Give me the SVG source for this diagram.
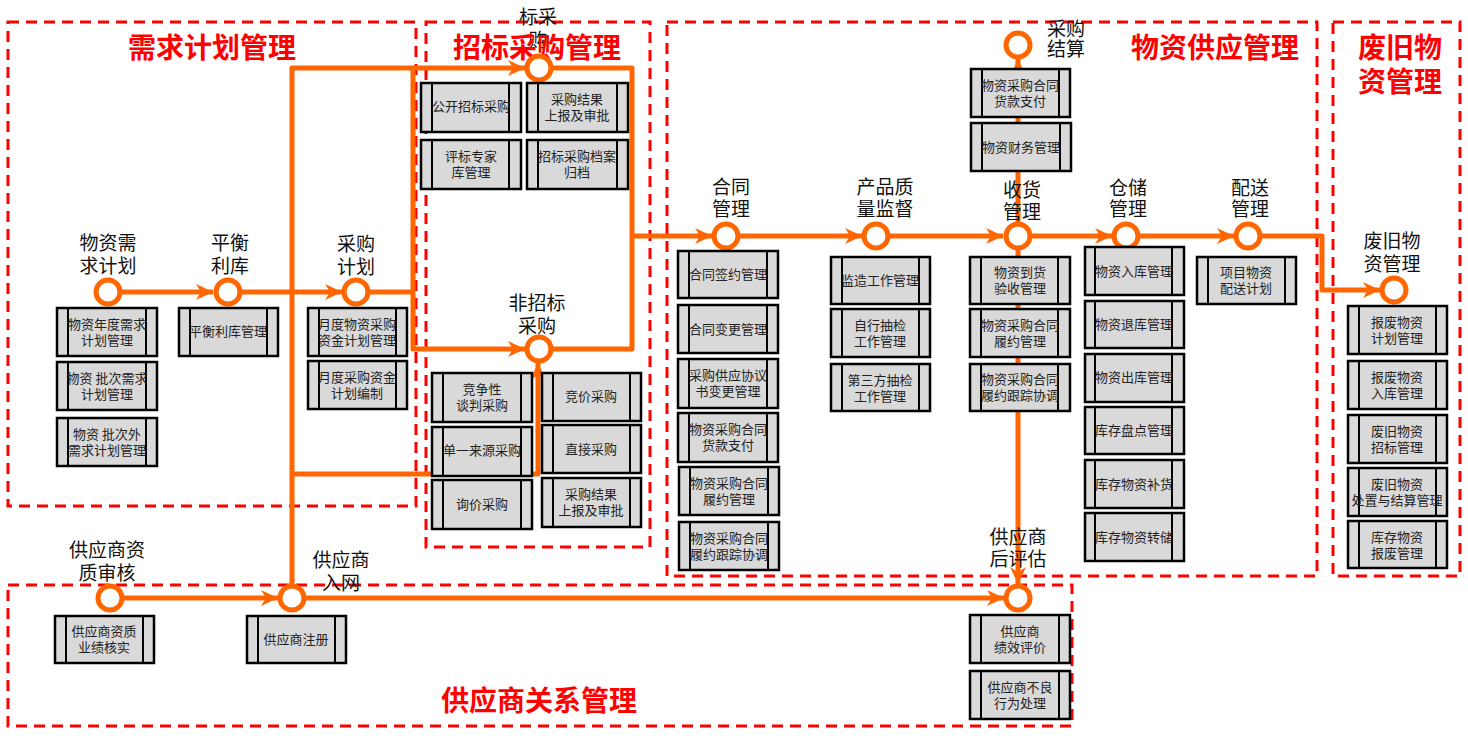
<svg xmlns="http://www.w3.org/2000/svg" width="1468" height="747" viewBox="0 0 1468 747">
<style>
.frame{fill:none;stroke:#FF0000;stroke-width:3;stroke-dasharray:11 7}
.title{font-family:"Noto Sans CJK SC","Noto Sans",sans-serif;font-size:28px;font-weight:bold;fill:#FF0000;text-anchor:middle}
.conn{fill:none;stroke:#FF6600;stroke-width:5;stroke-linejoin:round}
.stop{fill:#FFFFFF;stroke:#FF6600;stroke-width:5}
.lbl{font-family:"Noto Sans CJK SC","Noto Sans",sans-serif;font-size:19px;fill:#111;text-anchor:middle}
.box rect{fill:#D9D9D9;stroke:#000;stroke-width:2.5}
.box line{stroke:#000;stroke-width:2}
.box text{font-family:"Noto Sans CJK SC","Noto Sans",sans-serif;font-size:13px;fill:#222;text-anchor:middle}
</style>
<defs>
<marker id="arr" markerUnits="userSpaceOnUse" markerWidth="18" markerHeight="18" viewBox="0 0 18 18" refX="17" refY="9" orient="auto"><path d="M0,1 L17,9 L0,17 L5,9 z" fill="#FF6600"/></marker>
</defs>
<rect width="1468" height="747" fill="#FFFFFF"/>

<g id="frames">
<rect class="frame" x="8" y="22" width="408" height="484"/>
<rect class="frame" x="426" y="22" width="224" height="525"/>
<rect class="frame" x="667" y="22" width="650" height="554"/>
<rect class="frame" x="1333" y="22" width="127" height="554"/>
<rect class="frame" x="8" y="585" width="1064" height="141"/>
</g>

<g id="connectors">
<path class="conn" d="M108,292 H213" marker-end="url(#arr)"/>
<path class="conn" d="M228,292 H342" marker-end="url(#arr)"/>
<path class="conn" d="M356,292 H413"/>
<path class="conn" d="M413,68 V349 H525" marker-end="url(#arr)"/>
<path class="conn" d="M292,598 V68 H525" marker-end="url(#arr)"/>
<path class="conn" d="M292,474 H538 V363" marker-end="url(#arr)"/>
<path class="conn" d="M539,68 H632 V349 H539"/>
<path class="conn" d="M632,236 H712" marker-end="url(#arr)"/>
<path class="conn" d="M726,236 H862" marker-end="url(#arr)"/>
<path class="conn" d="M876,236 H1003" marker-end="url(#arr)"/>
<path class="conn" d="M1017,236 H1112" marker-end="url(#arr)"/>
<path class="conn" d="M1126,236 H1234" marker-end="url(#arr)"/>
<path class="conn" d="M1248,236 H1322 V290 H1380" marker-end="url(#arr)"/>
<path class="conn" d="M1018,236 V59" marker-end="url(#arr)"/>
<path class="conn" d="M1018,236 V584" marker-end="url(#arr)"/>
<path class="conn" d="M110,598 H278" marker-end="url(#arr)"/>
<path class="conn" d="M292,598 H1004" marker-end="url(#arr)"/>
</g>

<g id="titles">
<text class="title" x="212" y="58">需求计划管理</text>
<text class="lbl" x="538" y="24">标采<tspan x="538" dy="23">购</tspan></text>
<text class="title" x="537" y="58">招标采购管理</text>
<text class="title" x="1215" y="58">物资供应管理</text>
<text class="title" x="1400" y="58">废旧物<tspan x="1400" dy="34">资管理</tspan></text>
<text class="title" x="539" y="711">供应商关系管理</text>
</g>

<g id="n-wzxqjh"><circle class="stop" cx="108" cy="292" r="12"/><text class="lbl" x="108" y="250">物资需<tspan x="108" dy="23">求计划</tspan></text></g>
<g id="n-phlk"><circle class="stop" cx="228" cy="292" r="12"/><text class="lbl" x="230" y="250">平衡<tspan x="230" dy="23">利库</tspan></text></g>
<g id="n-cgjh"><circle class="stop" cx="356" cy="292" r="12"/><text class="lbl" x="356" y="251">采购<tspan x="356" dy="23">计划</tspan></text></g>
<g id="n-zbcg"><circle class="stop" cx="539" cy="68" r="12"/></g>
<g id="n-fzbcg"><circle class="stop" cx="539" cy="349" r="12"/><text class="lbl" x="537" y="310">非招标<tspan x="537" dy="23">采购</tspan></text></g>
<g id="n-htgl"><circle class="stop" cx="726" cy="236" r="12"/><text class="lbl" x="731" y="194">合同<tspan x="731" dy="22">管理</tspan></text></g>
<g id="n-cpzl"><circle class="stop" cx="876" cy="236" r="12"/><text class="lbl" x="885" y="194">产品质<tspan x="885" dy="22">量监督</tspan></text></g>
<g id="n-shgl"><circle class="stop" cx="1018" cy="236" r="12"/><text class="lbl" x="1022" y="197">收货<tspan x="1022" dy="22">管理</tspan></text></g>
<g id="n-ccgl"><circle class="stop" cx="1126" cy="236" r="12"/><text class="lbl" x="1128" y="195">仓储<tspan x="1128" dy="21">管理</tspan></text></g>
<g id="n-psgl"><circle class="stop" cx="1248" cy="236" r="12"/><text class="lbl" x="1250" y="195">配送<tspan x="1250" dy="21">管理</tspan></text></g>
<g id="n-fjwz"><circle class="stop" cx="1394" cy="290" r="12"/><text class="lbl" x="1392" y="248">废旧物<tspan x="1392" dy="23">资管理</tspan></text></g>
<g id="n-cgjs"><circle class="stop" cx="1018" cy="45" r="12"/><text class="lbl" x="1066" y="36">采购<tspan x="1066" dy="20">结算</tspan></text></g>
<g id="n-gyszz"><circle class="stop" cx="110" cy="598" r="12"/><text class="lbl" x="107" y="557">供应商资<tspan x="107" dy="23">质审核</tspan></text></g>
<g id="n-gysrw"><circle class="stop" cx="292" cy="598" r="12"/><text class="lbl" x="341" y="567">供应商<tspan x="341" dy="23">入网</tspan></text></g>
<g id="n-gyshpg"><circle class="stop" cx="1018" cy="598" r="12"/><text class="lbl" x="1018" y="544">供应商<tspan x="1018" dy="22">后评估</tspan></text></g>

<g id="b1" class="box"><rect x="57" y="308" width="100" height="48"/><line x1="68" y1="308" x2="68" y2="356"/><line x1="146" y1="308" x2="146" y2="356"/><text x="107" y="329">物资年度需求<tspan x="107" dy="16">计划管理</tspan></text></g>
<g id="b2" class="box"><rect x="57" y="362" width="100" height="48"/><line x1="68" y1="362" x2="68" y2="410"/><line x1="146" y1="362" x2="146" y2="410"/><text x="107" y="383">物资 批次需求<tspan x="107" dy="16">计划管理</tspan></text></g>
<g id="b3" class="box"><rect x="57" y="418" width="100" height="48"/><line x1="68" y1="418" x2="68" y2="466"/><line x1="146" y1="418" x2="146" y2="466"/><text x="107" y="439">物资 批次外<tspan x="107" dy="16">需求计划管理</tspan></text></g>
<g id="b4" class="box"><rect x="179" y="308" width="99" height="48"/><line x1="190" y1="308" x2="190" y2="356"/><line x1="267" y1="308" x2="267" y2="356"/><text x="228" y="336">平衡利库管理</text></g>
<g id="b5" class="box"><rect x="308" y="308" width="99" height="48"/><line x1="319" y1="308" x2="319" y2="356"/><line x1="396" y1="308" x2="396" y2="356"/><text x="357" y="329">月度物资采购<tspan x="357" dy="16">资金计划管理</tspan></text></g>
<g id="b6" class="box"><rect x="308" y="361" width="99" height="48"/><line x1="319" y1="361" x2="319" y2="409"/><line x1="396" y1="361" x2="396" y2="409"/><text x="357" y="382">月度采购资金<tspan x="357" dy="16">计划编制</tspan></text></g>
<g id="b7" class="box"><rect x="421" y="83" width="100" height="49"/><line x1="432" y1="83" x2="432" y2="132"/><line x1="509" y1="83" x2="509" y2="132"/><text x="471" y="111">公开招标采购</text></g>
<g id="b8" class="box"><rect x="527" y="83" width="101" height="49"/><line x1="538" y1="83" x2="538" y2="132"/><line x1="617" y1="83" x2="617" y2="132"/><text x="577" y="104">采购结果<tspan x="577" dy="16">上报及审批</tspan></text></g>
<g id="b9" class="box"><rect x="421" y="140" width="100" height="49"/><line x1="432" y1="140" x2="432" y2="189"/><line x1="509" y1="140" x2="509" y2="189"/><text x="471" y="161">评标专家<tspan x="471" dy="16">库管理</tspan></text></g>
<g id="b10" class="box"><rect x="527" y="140" width="101" height="49"/><line x1="538" y1="140" x2="538" y2="189"/><line x1="617" y1="140" x2="617" y2="189"/><text x="577" y="161">招标采购档案<tspan x="577" dy="16">归档</tspan></text></g>
<g id="b11" class="box"><rect x="432" y="373" width="100" height="49"/><line x1="443" y1="373" x2="443" y2="422"/><line x1="521" y1="373" x2="521" y2="422"/><text x="482" y="394">竞争性<tspan x="482" dy="16">谈判采购</tspan></text></g>
<g id="b12" class="box"><rect x="432" y="427" width="100" height="49"/><line x1="443" y1="427" x2="443" y2="476"/><line x1="521" y1="427" x2="521" y2="476"/><text x="482" y="455">单一来源采购</text></g>
<g id="b13" class="box"><rect x="432" y="480" width="100" height="49"/><line x1="443" y1="480" x2="443" y2="529"/><line x1="521" y1="480" x2="521" y2="529"/><text x="482" y="509">询价采购</text></g>
<g id="b14" class="box"><rect x="542" y="373" width="99" height="48"/><line x1="553" y1="373" x2="553" y2="421"/><line x1="630" y1="373" x2="630" y2="421"/><text x="591" y="401">竞价采购</text></g>
<g id="b15" class="box"><rect x="542" y="425" width="99" height="48"/><line x1="553" y1="425" x2="553" y2="473"/><line x1="630" y1="425" x2="630" y2="473"/><text x="591" y="454">直接采购</text></g>
<g id="b16" class="box"><rect x="542" y="478" width="99" height="49"/><line x1="553" y1="478" x2="553" y2="527"/><line x1="630" y1="478" x2="630" y2="527"/><text x="591" y="499">采购结果<tspan x="591" dy="16">上报及审批</tspan></text></g>
<g id="b17" class="box"><rect x="678" y="251" width="100" height="47"/><line x1="689" y1="251" x2="689" y2="298"/><line x1="767" y1="251" x2="767" y2="298"/><text x="728" y="279">合同签约管理</text></g>
<g id="b18" class="box"><rect x="678" y="305" width="100" height="48"/><line x1="689" y1="305" x2="689" y2="353"/><line x1="767" y1="305" x2="767" y2="353"/><text x="728" y="334">合同变更管理</text></g>
<g id="b19" class="box"><rect x="678" y="359" width="100" height="49"/><line x1="689" y1="359" x2="689" y2="408"/><line x1="767" y1="359" x2="767" y2="408"/><text x="728" y="380">采购供应协议<tspan x="728" dy="16">书变更管理</tspan></text></g>
<g id="b20" class="box"><rect x="678" y="413" width="100" height="49"/><line x1="689" y1="413" x2="689" y2="462"/><line x1="767" y1="413" x2="767" y2="462"/><text x="728" y="434">物资采购合同<tspan x="728" dy="16">货款支付</tspan></text></g>
<g id="b21" class="box"><rect x="679" y="467" width="100" height="48"/><line x1="690" y1="467" x2="690" y2="515"/><line x1="768" y1="467" x2="768" y2="515"/><text x="729" y="488">物资采购合同<tspan x="729" dy="16">履约管理</tspan></text></g>
<g id="b22" class="box"><rect x="679" y="522" width="100" height="48"/><line x1="690" y1="522" x2="690" y2="570"/><line x1="768" y1="522" x2="768" y2="570"/><text x="729" y="543">物资采购合同<tspan x="729" dy="16">履约跟踪协调</tspan></text></g>
<g id="b23" class="box"><rect x="831" y="257" width="99" height="47"/><line x1="842" y1="257" x2="842" y2="304"/><line x1="919" y1="257" x2="919" y2="304"/><text x="880" y="285">监造工作管理</text></g>
<g id="b24" class="box"><rect x="831" y="309" width="99" height="48"/><line x1="842" y1="309" x2="842" y2="357"/><line x1="919" y1="309" x2="919" y2="357"/><text x="880" y="330">自行抽检<tspan x="880" dy="16">工作管理</tspan></text></g>
<g id="b25" class="box"><rect x="831" y="364" width="99" height="47"/><line x1="842" y1="364" x2="842" y2="411"/><line x1="919" y1="364" x2="919" y2="411"/><text x="880" y="385">第三方抽检<tspan x="880" dy="16">工作管理</tspan></text></g>
<g id="b26" class="box"><rect x="970" y="257" width="100" height="47"/><line x1="981" y1="257" x2="981" y2="304"/><line x1="1058" y1="257" x2="1058" y2="304"/><text x="1020" y="277">物资到货<tspan x="1020" dy="16">验收管理</tspan></text></g>
<g id="b27" class="box"><rect x="970" y="309" width="100" height="48"/><line x1="981" y1="309" x2="981" y2="357"/><line x1="1058" y1="309" x2="1058" y2="357"/><text x="1020" y="330">物资采购合同<tspan x="1020" dy="16">履约管理</tspan></text></g>
<g id="b28" class="box"><rect x="970" y="364" width="100" height="47"/><line x1="981" y1="364" x2="981" y2="411"/><line x1="1058" y1="364" x2="1058" y2="411"/><text x="1020" y="384">物资采购合同<tspan x="1020" dy="16">履约跟踪协调</tspan></text></g>
<g id="b29" class="box"><rect x="971" y="69" width="99" height="48"/><line x1="982" y1="69" x2="982" y2="117"/><line x1="1059" y1="69" x2="1059" y2="117"/><text x="1020" y="90">物资采购合同<tspan x="1020" dy="16">货款支付</tspan></text></g>
<g id="b30" class="box"><rect x="971" y="123" width="100" height="48"/><line x1="982" y1="123" x2="982" y2="171"/><line x1="1060" y1="123" x2="1060" y2="171"/><text x="1021" y="152">物资财务管理</text></g>
<g id="b31" class="box"><rect x="1085" y="247" width="99" height="48"/><line x1="1095" y1="247" x2="1095" y2="295"/><line x1="1172" y1="247" x2="1172" y2="295"/><text x="1134" y="276">物资入库管理</text></g>
<g id="b32" class="box"><rect x="1085" y="301" width="99" height="47"/><line x1="1095" y1="301" x2="1095" y2="348"/><line x1="1172" y1="301" x2="1172" y2="348"/><text x="1134" y="329">物资退库管理</text></g>
<g id="b33" class="box"><rect x="1085" y="354" width="99" height="48"/><line x1="1095" y1="354" x2="1095" y2="402"/><line x1="1172" y1="354" x2="1172" y2="402"/><text x="1134" y="382">物资出库管理</text></g>
<g id="b34" class="box"><rect x="1085" y="407" width="99" height="47"/><line x1="1095" y1="407" x2="1095" y2="454"/><line x1="1172" y1="407" x2="1172" y2="454"/><text x="1134" y="435">库存盘点管理</text></g>
<g id="b35" class="box"><rect x="1085" y="460" width="99" height="48"/><line x1="1095" y1="460" x2="1095" y2="508"/><line x1="1172" y1="460" x2="1172" y2="508"/><text x="1134" y="489">库存物资补货</text></g>
<g id="b36" class="box"><rect x="1085" y="513" width="99" height="48"/><line x1="1095" y1="513" x2="1095" y2="561"/><line x1="1172" y1="513" x2="1172" y2="561"/><text x="1134" y="542">库存物资转储</text></g>
<g id="b37" class="box"><rect x="1197" y="257" width="99" height="47"/><line x1="1208" y1="257" x2="1208" y2="304"/><line x1="1285" y1="257" x2="1285" y2="304"/><text x="1246" y="277">项目物资<tspan x="1246" dy="16">配送计划</tspan></text></g>
<g id="b38" class="box"><rect x="1348" y="306" width="99" height="48"/><line x1="1359" y1="306" x2="1359" y2="354"/><line x1="1436" y1="306" x2="1436" y2="354"/><text x="1397" y="327">报废物资<tspan x="1397" dy="16">计划管理</tspan></text></g>
<g id="b39" class="box"><rect x="1348" y="361" width="99" height="48"/><line x1="1359" y1="361" x2="1359" y2="409"/><line x1="1436" y1="361" x2="1436" y2="409"/><text x="1397" y="382">报废物资<tspan x="1397" dy="16">入库管理</tspan></text></g>
<g id="b40" class="box"><rect x="1348" y="415" width="99" height="48"/><line x1="1359" y1="415" x2="1359" y2="463"/><line x1="1436" y1="415" x2="1436" y2="463"/><text x="1397" y="436">废旧物资<tspan x="1397" dy="16">招标管理</tspan></text></g>
<g id="b41" class="box"><rect x="1348" y="468" width="99" height="48"/><line x1="1359" y1="468" x2="1359" y2="516"/><line x1="1436" y1="468" x2="1436" y2="516"/><text x="1397" y="489">废旧物资<tspan x="1397" dy="16">处置与结算管理</tspan></text></g>
<g id="b42" class="box"><rect x="1348" y="521" width="99" height="47"/><line x1="1359" y1="521" x2="1359" y2="568"/><line x1="1436" y1="521" x2="1436" y2="568"/><text x="1397" y="542">库存物资<tspan x="1397" dy="16">报废管理</tspan></text></g>
<g id="b43" class="box"><rect x="55" y="616" width="99" height="47"/><line x1="66" y1="616" x2="66" y2="663"/><line x1="143" y1="616" x2="143" y2="663"/><text x="104" y="636">供应商资质<tspan x="104" dy="16">业绩核实</tspan></text></g>
<g id="b44" class="box"><rect x="247" y="616" width="99" height="47"/><line x1="258" y1="616" x2="258" y2="663"/><line x1="335" y1="616" x2="335" y2="663"/><text x="296" y="644">供应商注册</text></g>
<g id="b45" class="box"><rect x="970" y="615" width="100" height="48"/><line x1="981" y1="615" x2="981" y2="663"/><line x1="1059" y1="615" x2="1059" y2="663"/><text x="1020" y="636">供应商<tspan x="1020" dy="16">绩效评价</tspan></text></g>
<g id="b46" class="box"><rect x="970" y="671" width="100" height="48"/><line x1="981" y1="671" x2="981" y2="719"/><line x1="1059" y1="671" x2="1059" y2="719"/><text x="1020" y="692">供应商不良<tspan x="1020" dy="16">行为处理</tspan></text></g>
</svg>
